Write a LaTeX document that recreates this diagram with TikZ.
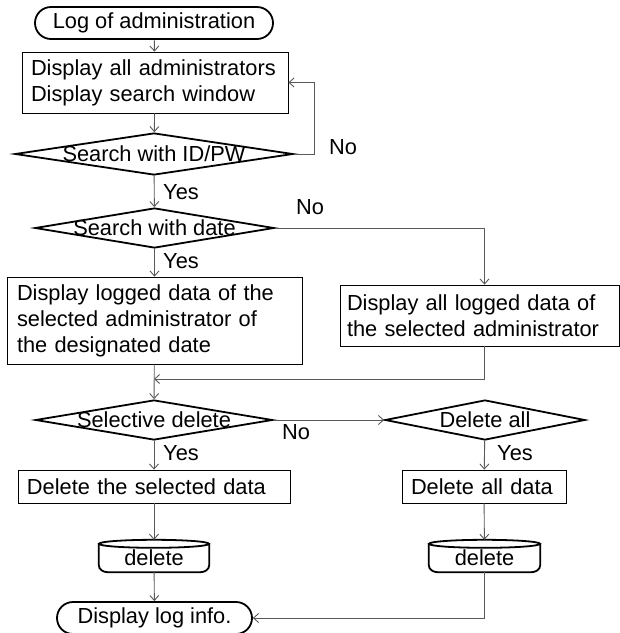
\documentclass[tikz,border=0pt]{standalone}
\usepackage{fontspec}
\setmainfont{Liberation Sans}
\usetikzlibrary{shapes.geometric,shapes.misc,arrows.meta}
\begin{document}
\begin{tikzpicture}[x=1pt,y=-1pt,
  font=\fontsize{21.8}{26}\selectfont,
  conn/.style={draw=black!65, line width=0.9pt, -{Straight Barb[length=5pt,width=9pt]}},
  boxn/.style={draw, line width=0.8pt, rectangle, inner ysep=0pt, align=left},
  dia/.style={draw, diamond, line width=1.8pt, inner sep=0pt},
  term/.style={draw, rounded rectangle, line width=1.8pt, inner sep=0pt},
  diskbox/.style={rectangle, inner sep=0pt, minimum height=32pt},
  diskline/.style={draw, line width=1.8pt},
  lbl/.style={inner sep=0pt}]
\useasboundingbox (0,0) rectangle (620,633);

% terminals
\node[term, minimum width=238pt, minimum height=32pt] (start) at (154,23) {};
\node[lbl] (startt) at (start) {Log of administration};
\node[term, minimum width=195pt, minimum height=32pt] (finish) at (154.5,618) {};
\node[lbl] (finisht) at (finish) {Display log info.};

% boxes
\node[boxn, inner xsep=9pt, text width=248pt, minimum height=61pt] (box1) at (155,82.5)
  {Display all administrators\\Display search window};
\node[boxn, inner xsep=10pt, text width=275pt, minimum height=87pt] (box2) at (154.5,320.5)
  {Display logged data of the\\selected administrator of\\the designated date};
\node[boxn, inner xsep=7pt, text width=265pt, minimum height=61pt] (box3) at (479.5,315.5)
  {Display all logged data of\\the selected administrator};
\node[boxn, inner xsep=9pt, text width=254pt, minimum height=33pt] (box4) at (154,486.5)
  {Delete the selected data};
\node[boxn, inner xsep=9pt, text width=146pt, minimum height=33pt] (box5) at (484,486.5)
  {Delete all data};

% decisions
\node[dia, minimum width=278pt, minimum height=42pt] (d1) at (154,154) {};
\node[lbl] (d1t) at (d1) {Search with ID/PW};
\node[dia, minimum width=239pt, minimum height=40pt] (d2) at (154.5,228) {};
\node[lbl] (d2t) at (d2) {Search with date};
\node[dia, minimum width=237pt, minimum height=40pt] (d3) at (154,420) {};
\node[lbl] (d3t) at (d3) {Selective delete};
\node[dia, minimum width=200pt, minimum height=40pt] (d4) at (485,420) {};
\node[lbl] (d4t) at (d4) {Delete all};

% disks
\node[diskbox, minimum width=110pt] (disk1) at (154,556) {};
\node[lbl] (disk1t) at ([yshift=-2pt]disk1.center) {delete};
\node[diskbox, minimum width=111pt] (disk2) at (484.5,556) {};
\node[lbl] (disk2t) at ([yshift=-2pt]disk2.center) {delete};
\foreach \d/\r in {disk1/55,disk2/55.5}{
  \draw[diskline] ([yshift=-4pt]\d.north) ellipse [x radius=\r, y radius=4];
  \draw[diskline] ([yshift=-4pt]\d.north west) -- ([yshift=7pt]\d.south west)
    to[out=-90,in=180] ([xshift=9pt]\d.south west) -- ([xshift=-9pt]\d.south east)
    to[out=0,in=-90] ([yshift=7pt]\d.south east) -- ([yshift=-4pt]\d.north east);
}

% labels
\node[lbl] (no1) at (343,147) {No};
\node[lbl] (yes1) at (181,192) {Yes};
\node[lbl] (no2) at (310,207) {No};
\node[lbl] (yes2) at (181,261) {Yes};
\node[lbl] (no3) at (296,432) {No};
\node[lbl] (yes3) at (181,453) {Yes};
\node[lbl] (yes4) at (515,453) {Yes};

% connectors
\coordinate (merge) at (154,379);
\draw[conn] (start) -- (box1);
\draw[conn] (box1) -- (d1);
\draw[conn] (d1.east) -- ++(21,0) |- (box1.east);
\draw[conn] (d1) -- (d2);
\draw[conn] (d2.east) -| ([xshift=5pt]box3.north);
\draw[conn] (d2) -- (box2);
\draw[conn] (box2) -- (d3);
\draw[conn] ([xshift=5pt]box3.south) |- (merge);
\draw[conn] (d3.east) -- (d4.west);
\draw[conn] (d3) -- (box4);
\draw[conn] (d4) -- (box5);
\draw[conn] (box4) -- (disk1);
\draw[conn] (box5) -- (disk2);
\draw[conn] (disk1) -- (finish);
\draw[conn] (disk2.south) |- (finish.east);
\end{tikzpicture}
\end{document}
